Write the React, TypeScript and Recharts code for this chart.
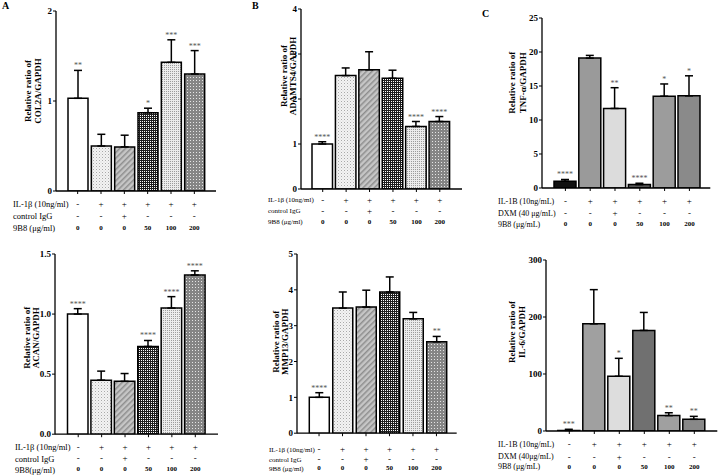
import React from 'react';
import { BarChart, Bar, XAxis, YAxis, Cell, ErrorBar, LabelList } from 'recharts';

const SERIF = '"Liberation Serif", "DejaVu Serif", serif';

// six treatment groups, same order in every panel
const conditions = ['ctrl', 'il1b', 'il1b-ctl', 'il1b-50', 'il1b-100', 'il1b-200'];
const il1bRow = ['-', '+', '+', '+', '+', '+'];
const secondRow = ['-', '-', '+', '-', '-', '-'];
const doseRow = ['0', '0', '0', '50', '100', '200'];

// A: COL2A / ACAN
const col2aMean = [1.03, 0.5, 0.49, 0.87, 1.43, 1.3];
const col2aErr = [0.31, 0.13, 0.13, 0.05, 0.25, 0.26];
const col2aSig = ['**', '', '', '*', '***', '***'];

const acanMean = [1.0, 0.45, 0.44, 0.73, 1.05, 1.325];
const acanErr = [0.045, 0.075, 0.065, 0.05, 0.095, 0.035];
const acanSig = ['****', '', '', '****', '****', '****'];

// B: ADAMTS4 / MMP13
const adamtsMean = [1.0, 2.52, 2.65, 2.46, 1.39, 1.5];
const adamtsErr = [0.05, 0.17, 0.4, 0.18, 0.11, 0.11];
const adamtsSig = ['****', '', '', '', '****', '****'];

const mmp13Mean = [1.0, 3.49, 3.52, 3.94, 3.19, 2.55];
const mmp13Err = [0.13, 0.45, 0.47, 0.42, 0.18, 0.15];
const mmp13Sig = ['****', '', '', '', '', '**'];

// C: TNF-a / IL-6
const tnfMean = [1.0, 19.1, 11.7, 0.5, 13.5, 13.55];
const tnfErr = [0.25, 0.4, 3.05, 0.2, 1.8, 2.95];
const tnfSig = ['****', '', '**', '****', '*', '*'];

const il6Mean = [1, 188, 96, 176.5, 27, 20.5];
const il6Err = [2, 60, 31.5, 31.5, 5, 5.2];
const il6Sig = ['***', '', '*', '', '**', '**'];

const patternFills = (id: string) => [
  '#ffffff',
  `url(#${id}-p2)`,
  `url(#${id}-p3)`,
  `url(#${id}-p4)`,
  `url(#${id}-p5)`,
  `url(#${id}-p6)`,
];
const tnfFills = ['#111111', '#9a9a9a', '#dcdcdc', '#555555', '#9c9c9c', '#8a8a8a'];
const il6Fills = ['#111111', '#a0a0a0', '#dddddd', '#707070', '#a0a0a0', '#888888'];

type PanelCfg = {
  id: string;
  mean: number[];
  err: number[];
  sig: string[];
  fills: string[];
  ax: number;
  top: number;
  bottom: number;
  end: number;
  padL: number;
  padR: number;
  barSize: number;
  max: number;
  ticks: number[];
  fmt?: (v: number) => string;
  yl: [string, string];
  ylX: [number, number];
  ylY: number;
  rowOff: [number, number, number];
  hdrX: number;
  hdrSize: number;
  headers: [string, string, string];
};

const panels: PanelCfg[] = [
  {
    id: 'a1', mean: col2aMean, err: col2aErr, sig: col2aSig, fills: patternFills('a1'),
    ax: 56, top: 11, bottom: 191, end: 216, padL: 10, padR: 10, barSize: 20,
    max: 2, ticks: [0, 1, 2],
    yl: ['Relative ratio of', 'COL2A/GAPDH'], ylX: [28, 38], ylY: 91,
    rowOff: [13, 25, 37], hdrX: 13, hdrSize: 8.5,
    headers: ['IL-1β (10ng/ml)', 'control IgG', '9B8 (μg/ml)'],
  },
  {
    id: 'a2', mean: acanMean, err: acanErr, sig: acanSig, fills: patternFills('a2'),
    ax: 55, top: 254.3, bottom: 434.5, end: 218, padL: 11.5, padR: 11, barSize: 20.5,
    max: 1.5, ticks: [0, 0.5, 1, 1.5], fmt: (v) => v.toFixed(1),
    yl: ['Relative ratio of', 'ACAN/GAPDH'], ylX: [27, 36], ylY: 338,
    rowOff: [12.5, 24, 35], hdrX: 15, hdrSize: 8.5,
    headers: ['IL-1β (10ng/ml)', 'control IgG', '9B8(μg/ml)'],
  },
  {
    id: 'b1', mean: adamtsMean, err: adamtsErr, sig: adamtsSig, fills: patternFills('b1'),
    ax: 301, top: 9, bottom: 189, end: 462, padL: 10, padR: 10.5, barSize: 20.5,
    max: 4, ticks: [0, 1, 2, 3, 4],
    yl: ['Relative ratio of', 'ADAMTS4/GAPDH'], ylX: [284, 293], ylY: 76,
    rowOff: [11, 22, 33], hdrX: 268, hdrSize: 7,
    headers: ['IL-1β (10ng/ml)', 'control IgG', '9B8 (μg/ml)'],
  },
  {
    id: 'b2', mean: mmp13Mean, err: mmp13Err, sig: mmp13Sig, fills: patternFills('b2'),
    ax: 297.3, top: 254.3, bottom: 433.5, end: 457, padL: 10.3, padR: 8.5, barSize: 20,
    max: 5, ticks: [0, 1, 2, 3, 4, 5],
    yl: ['Relative ratio of', 'MMP13/GAPDH'], ylX: [276, 285], ylY: 342,
    rowOff: [16, 26, 35], hdrX: 269, hdrSize: 7,
    headers: ['IL-1β (10ng/ml)', 'control IgG', '9B8 (μg/ml)'],
  },
  {
    id: 'c1', mean: tnfMean, err: tnfErr, sig: tnfSig, fills: tnfFills,
    ax: 541.7, top: 18.3, bottom: 188.3, end: 710, padL: 11, padR: 8.5, barSize: 22,
    max: 25, ticks: [0, 5, 10, 15, 20, 25],
    yl: ['Relative ratio of', 'TNF-α/GAPDH'], ylX: [512, 523], ylY: 83,
    rowOff: [13.4, 25, 36], hdrX: 498, hdrSize: 8,
    headers: ['IL-1B (10ng/mL)', 'DXM (40 μg/mL)', '9B8 (μg/mL)'],
  },
  {
    id: 'c2', mean: il6Mean, err: il6Err, sig: il6Sig, fills: il6Fills,
    ax: 545.7, top: 260, bottom: 431, end: 717, padL: 10.8, padR: 10.5, barSize: 22,
    max: 300, ticks: [0, 100, 200, 300],
    yl: ['Relative ratio of', 'IL-6/GAPDH'], ylX: [512, 522], ylY: 332,
    rowOff: [13, 25.7, 35.7], hdrX: 498, hdrSize: 8,
    headers: ['IL-1B (10ng/mL)', 'DXM (40μg/mL)', '9B8 (μg/mL)'],
  },
];

const Patterns = ({ id }: { id: string }) => (
  <defs>
    <pattern id={`${id}-p2`} width={3} height={3} patternUnits="userSpaceOnUse">
      <rect width={3} height={3} fill="#f3f3f3" />
      <rect width={1} height={1} fill="#a8a8a8" />
      <rect x={1.5} y={1.5} width={1} height={1} fill="#d0d0d0" />
    </pattern>
    <pattern id={`${id}-p3`} width={4} height={4} patternUnits="userSpaceOnUse" patternTransform="rotate(45)">
      <rect width={4} height={4} fill="#c6c6c6" />
      <rect width={1.5} height={4} fill="#8e8e8e" />
    </pattern>
    <pattern id={`${id}-p4`} width={2} height={2} patternUnits="userSpaceOnUse">
      <rect width={2} height={2} fill="#1e1e1e" />
      <rect width={1} height={1} fill="#ffffff" />
    </pattern>
    <pattern id={`${id}-p5`} width={2} height={2} patternUnits="userSpaceOnUse">
      <rect width={2} height={2} fill="#ececec" />
      <rect width={1} height={1} fill="#9c9c9c" />
    </pattern>
    <pattern id={`${id}-p6`} width={3} height={3} patternUnits="userSpaceOnUse">
      <rect width={3} height={3} fill="#858585" />
      <rect x={1} y={1} width={1} height={1} fill="#e6e6e6" />
    </pattern>
  </defs>
);

const YLabel = ({ lines, xs, cy }: { lines: [string, string]; xs: [number, number]; cy: number }) => (
  <g>
    {lines.map((t, i) => (
      <text
        key={i}
        x={xs[i]}
        y={cy}
        transform={`rotate(-90, ${xs[i]}, ${cy})`}
        textAnchor="middle"
        dominantBaseline="central"
        fontFamily={SERIF}
        fontWeight="bold"
        fontSize={9}
        fill="#000"
      >
        {t}
      </text>
    ))}
  </g>
);

function Panel({ c }: { c: PanelCfg }) {
  const plotH = c.bottom - c.top;
  const left = c.ax - 50;
  const top = c.top - 10;
  const width = c.end - c.ax + 52;
  const height = 10 + plotH + 45;
  const axisY = 10 + plotH;
  const data = conditions.map((cond, i) => ({ cond, mean: c.mean[i], errRange: [0, c.err[i]] }));

  const XTick = (props: any) => {
    const { x, payload } = props;
    const i = conditions.indexOf(payload.value);
    if (i < 0) return null;
    return (
      <g fontFamily={SERIF} fill="#000">
        <text x={x} y={axisY + c.rowOff[0]} textAnchor="middle" dominantBaseline="central" fontSize={9}>{il1bRow[i]}</text>
        <text x={x} y={axisY + c.rowOff[1]} textAnchor="middle" dominantBaseline="central" fontSize={9}>{secondRow[i]}</text>
        <text x={x} y={axisY + c.rowOff[2]} textAnchor="middle" dominantBaseline="central" fontSize={7} fontWeight="bold">{doseRow[i]}</text>
      </g>
    );
  };

  const StarLabel = (props: any) => {
    const vb = props.viewBox || props;
    const x = vb.x ?? props.x;
    const y = vb.y ?? props.y;
    const w = vb.width ?? props.width;
    const h = vb.height ?? props.height;
    const i = props.index;
    if (i == null || !c.sig[i]) return null;
    const ppu = h / c.mean[i];
    const capY = y - c.err[i] * ppu;
    return (
      <text x={x + w / 2} y={capY - 2} textAnchor="middle" fontFamily={SERIF} fontSize={8} fill="#555">
        {c.sig[i]}
      </text>
    );
  };

  return (
    <div style={{ position: 'absolute', left, top }}>
      <BarChart
        width={width}
        height={height}
        data={data}
        margin={{ top: 10, right: 2, left: 0, bottom: 0 }}
        barSize={c.barSize}
      >
        <Patterns id={c.id} />
        <XAxis
          dataKey="cond"
          type="category"
          interval={0}
          height={45}
          padding={{ left: c.padL, right: c.padR }}
          tickSize={3}
          axisLine={{ stroke: '#000', strokeWidth: 1.3 }}
          tickLine={{ stroke: '#000', strokeWidth: 1 }}
          tick={<XTick />}
        />
        <YAxis
          type="number"
          width={50}
          domain={[0, c.max]}
          ticks={c.ticks}
          allowDataOverflow
          tickSize={3}
          tickMargin={1}
          tickFormatter={c.fmt}
          axisLine={{ stroke: '#000', strokeWidth: 1.3 }}
          tickLine={{ stroke: '#000', strokeWidth: 1 }}
          tick={{ fontFamily: SERIF, fontWeight: 'bold', fontSize: 9, fill: '#000' }}
          label={<YLabel lines={c.yl} xs={[c.ylX[0] - left, c.ylX[1] - left]} cy={c.ylY - top} />}
        />
        <Bar dataKey="mean" isAnimationActive={false} stroke="#000" strokeWidth={1.5}>
          {data.map((d, i) => (
            <Cell key={d.cond} fill={c.fills[i]} />
          ))}
          <ErrorBar dataKey="errRange" direction="y" width={4} stroke="#000" strokeWidth={1.5} isAnimationActive={false} />
          <LabelList dataKey="mean" content={<StarLabel />} />
        </Bar>
      </BarChart>
    </div>
  );
}

export default function App() {
  return (
    <div style={{ position: 'absolute', left: 0, top: 0, width: 719, height: 476, background: '#fff' }}>
      {panels.map((p) => (
        <Panel key={p.id} c={p} />
      ))}
      <svg width={719} height={476} style={{ position: 'absolute', left: 0, top: 0, pointerEvents: 'none' }}>
        <g fontFamily={SERIF} fontWeight="bold" fontSize={10} fill="#000">
          <text x={2} y={9}>A</text>
          <text x={252} y={9}>B</text>
          <text x={482} y={17}>C</text>
        </g>
        {panels.map((p) =>
          p.headers.map((h, i) => (
            <text
              key={p.id + i}
              x={p.hdrX}
              y={p.bottom + p.rowOff[i]}
              dominantBaseline="central"
              fontFamily={SERIF}
              fontSize={p.hdrSize}
              fill="#000"
            >
              {h}
            </text>
          ))
        )}
      </svg>
    </div>
  );
}
